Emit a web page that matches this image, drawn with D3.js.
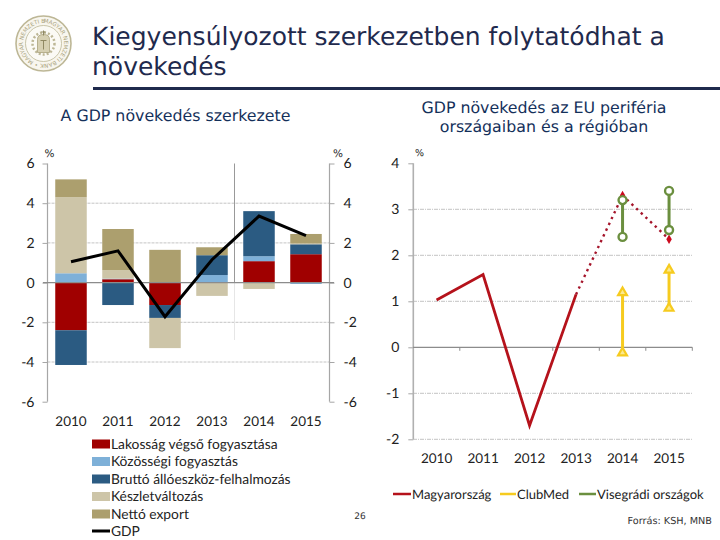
<!DOCTYPE html>
<html><head><meta charset="utf-8">
<script src="https://cdn.jsdelivr.net/npm/d3@7/dist/d3.min.js"></script>
<style>html,body{margin:0;padding:0;background:#fff}svg{display:block}text{text-rendering:geometricPrecision}</style>
</head><body><svg id="c" width="720" height="540"></svg>
<script>
const titleLines = ["Kiegyensúlyozott szerkezetben folytatódhat a", "növekedés"];
const leftTitle = "A GDP növekedés szerkezete";
const rightTitle = ["GDP növekedés az EU periféria", "országaiban és a régióban"];
const years = ["2010","2011","2012","2013","2014","2015"];
const seriesNames = ["Lakosság végső fogyasztása","Közösségi fogyasztás","Bruttó állóeszköz-felhalmozás","Készletváltozás","Nettó export"];
const seriesColors = ["#a00000","#7eb0d8","#2b5b82","#cdc5a8","#ac9f6e"];
const household = [-2.4, 0.17, -1.13, 0, 1.08, 1.43];
const community = [0.47, 0.03, 0, 0.38, 0.25, -0.07];
const investment = [-1.75, -1.13, -0.65, 1.0, 2.27, 0.5];
const inventory = [3.83, 0.43, -1.52, -0.67, -0.32, 0.04];
const netExport = [0.9, 2.07, 1.65, 0.4, 0, 0.48];
const gdp = [1.05, 1.6, -1.72, 1.15, 3.35, 2.37];
const leftTicks = [-6,-4,-2,0,2,4,6];
const rightTicks = [-2,-1,0,1,2,3,4];
const hungaryActual = [1.03, 1.58, -1.7, 1.15];
const hungaryForecast = [1.15, 3.3, 2.35];
const clubMed2014 = [1.19, -0.12];
const clubMed2015 = [1.68, 0.85];
const visegrad2014 = [3.2, 2.4];
const visegrad2015 = [3.4, 2.55];
const rightLegend = ["Magyarország","ClubMed","Visegrádi országok"];

const svg = d3.select("#c");
const DARK = "#1f2a4d", BODY = "Lato", HEAD = "'DejaVu Sans'";

/* header */
titleLines.forEach((t,i)=>svg.append("text").attr("x",92).attr("y",45+i*30).attr("font-family",HEAD).attr("font-size",25).attr("fill",DARK).text(t));
svg.append("rect").attr("x",93).attr("y",87).attr("width",627).attr("height",3).attr("fill",DARK);
svg.append("text").attr("x",175.5).attr("y",121).attr("text-anchor","middle").attr("font-family",HEAD).attr("font-size",15.8).attr("fill","#14305a").text(leftTitle);
rightTitle.forEach((t,i)=>svg.append("text").attr("x",544).attr("y",113+i*19).attr("text-anchor","middle").attr("font-family",HEAD).attr("font-size",15.8).attr("fill","#14305a").text(t));

/* seal */
const seal = svg.append("g").attr("transform","translate(43.5,43.5)");
const GOLD = "#bdb796";
seal.append("circle").attr("r",27.5).attr("fill","#f8f6ee").attr("stroke",GOLD).attr("stroke-width",1.6);
seal.append("circle").attr("r",18).attr("fill","#fbfaf5").attr("stroke",GOLD).attr("stroke-width",0.8);
seal.append("path").attr("id","sealPath").attr("fill","none").attr("d","M 0 -20.5 A 20.5 20.5 0 1 1 -0.01 -20.5");
seal.append("text").attr("font-family",HEAD).attr("font-size",5.6).attr("fill","#a9a27c")
  .append("textPath").attr("href","#sealPath").text("MAGYAR NEMZETI BANK • MAGYAR NEMZETI BANK");
seal.append("circle").attr("r",11).attr("fill","none").attr("stroke",GOLD).attr("stroke-width",2.5).attr("stroke-dasharray","2 2");
seal.append("path").attr("d","M-6 9V-4Q-6 -9 0 -9Q6 -9 6 -4V9Z").attr("fill","#d6d0b2").attr("stroke","#a9a27c").attr("stroke-width",0.8);
seal.append("path").attr("d","M0 -13V-8M-2 -11.5H2M-3 -3H3M0 -3V6").attr("stroke","#8f8862").attr("stroke-width",1).attr("fill","none");

/* left chart */
const xL = d3.scaleBand().domain(years).range([47.5,329.5]);
const yL = d3.scaleLinear().domain([-6,6]).range([401.7,163.5]);
const barW = 31.5;
const gridL = svg.append("g");
gridL.selectAll("line").data(leftTicks.filter(d=>d!==0&&Math.abs(d)!==6)).join("line")
  .attr("x1",47.5).attr("x2",329.5).attr("y1",d=>yL(d)).attr("y2",d=>yL(d))
  .attr("stroke","#c4c4c4").attr("stroke-width",1).attr("stroke-dasharray","3 1");

svg.append("line").attr("x1",234.5).attr("x2",234.5).attr("y1",163.5).attr("y2",282).attr("stroke","#999").attr("stroke-width",1);
svg.append("line").attr("x1",234.5).attr("x2",234.5).attr("y1",282).attr("y2",340).attr("stroke","#e6e6e6").attr("stroke-width",1);

const rows = years.map((y,i)=>({year:y,0:household[i],1:community[i],2:investment[i],3:inventory[i],4:netExport[i]}));
const stack = d3.stack().keys([0,1,2,3,4]).offset(d3.stackOffsetDiverging)(rows);
svg.append("g").selectAll("g").data(stack).join("g").attr("fill",(d,i)=>seriesColors[i])
  .selectAll("rect").data(d=>d).join("rect")
  .attr("x",d=>xL(d.data.year)+xL.bandwidth()/2-barW/2).attr("width",barW)
  .attr("y",d=>yL(Math.max(d[0],d[1]))).attr("height",d=>Math.abs(yL(d[0])-yL(d[1])));

const tickStyle = (g)=>{
  g.select(".domain").remove();
  g.selectAll(".tick line").attr("stroke","#a6a6a6");
  g.selectAll(".tick text").attr("font-family",BODY).attr("font-size",14).attr("fill","#222");
};
const fmt = d=>String(d);
svg.append("g").attr("transform","translate(47.5,0)").call(d3.axisLeft(yL).tickValues(leftTicks).tickFormat(fmt).tickSize(5).tickPadding(8)).call(tickStyle);
svg.append("g").attr("transform","translate(329.5,0)").call(d3.axisRight(yL).tickValues(leftTicks).tickFormat(fmt).tickSize(5).tickPadding(9)).call(tickStyle);
[47.5,329.5].forEach(x=>svg.append("line").attr("x1",x).attr("x2",x).attr("y1",163.5).attr("y2",401.7).attr("stroke","#a6a6a6").attr("stroke-width",1.2));
svg.append("line").attr("x1",43).attr("x2",334).attr("y1",yL(0)).attr("y2",yL(0)).attr("stroke","#8c8c8c").attr("stroke-width",1.2);
svg.append("g").attr("transform","translate(0,416.5)").call(d3.axisBottom(xL).tickSize(0).tickPadding(0)).call(g=>{
  g.select(".domain").remove();
  g.selectAll("text").attr("font-family",BODY).attr("font-size",13.5).attr("fill","#222");
});
svg.append("path").datum(gdp).attr("fill","none").attr("stroke","#000").attr("stroke-width",3).attr("stroke-linejoin","miter")
  .attr("d",d3.line().x((d,i)=>xL(years[i])+xL.bandwidth()/2).y(d=>yL(d)));
svg.append("text").attr("x",49.5).attr("y",157).attr("font-family",HEAD).attr("font-size",10.5).attr("text-anchor","middle").attr("fill","#222").text("%");
svg.append("text").attr("x",338).attr("y",157).attr("font-family",HEAD).attr("font-size",10.5).attr("text-anchor","middle").attr("fill","#222").text("%");

/* left legend */
const legL = svg.append("g");
seriesNames.forEach((n,i)=>{
  const y = 444+i*17.5;
  legL.append("rect").attr("x",92).attr("y",y-4.5).attr("width",18).attr("height",9).attr("fill",seriesColors[i]);
  legL.append("text").attr("x",111).attr("y",y+4.5).attr("font-family",BODY).attr("font-size",13.8).attr("fill","#222").text(n);
});
legL.append("line").attr("x1",92).attr("x2",110).attr("y1",531).attr("y2",531).attr("stroke","#000").attr("stroke-width",3);
legL.append("text").attr("x",111).attr("y",535.5).attr("font-family",BODY).attr("font-size",13.8).attr("fill","#222").text("GDP");
svg.append("text").attr("x",360).attr("y",519).attr("text-anchor","middle").attr("font-family",HEAD).attr("font-size",9).attr("fill","#333").text("26");

/* right chart */
const xR = d3.scaleBand().domain(years).range([413.3,692.3]);
const yR = d3.scaleLinear().domain([-2,4]).range([439.3,163.3]);
const cx = y=>xR(y)+xR.bandwidth()/2;
svg.append("g").selectAll("line").data(rightTicks.filter(d=>d!==0&&d!==4)).join("line")
  .attr("x1",413).attr("x2",692).attr("y1",d=>yR(d)).attr("y2",d=>yR(d))
  .attr("stroke","#c4c4c4").attr("stroke-width",1).attr("stroke-dasharray","4 1 1 1");
svg.append("g").attr("transform","translate(413.3,0)").call(d3.axisLeft(yR).tickValues(rightTicks).tickFormat(fmt).tickSize(5).tickPadding(9)).call(tickStyle);
svg.append("line").attr("x1",413.3).attr("x2",413.3).attr("y1",163.3).attr("y2",439.3).attr("stroke","#b0b0b0").attr("stroke-width",1.6);
svg.append("line").attr("x1",413).attr("x2",692.3).attr("y1",yR(0)).attr("y2",yR(0)).attr("stroke","#8c8c8c").attr("stroke-width",1.2);
svg.append("g").selectAll("line").data(years).join("line")
  .attr("x1",d=>xR(d)+xR.bandwidth()).attr("x2",d=>xR(d)+xR.bandwidth()).attr("y1",yR(0)).attr("y2",yR(0)+3.5).attr("stroke","#8c8c8c");
svg.append("g").attr("transform","translate(0,453)").call(d3.axisBottom(xR).tickSize(0).tickPadding(0)).call(g=>{
  g.select(".domain").remove();
  g.selectAll("text").attr("font-family",BODY).attr("font-size",13.5).attr("fill","#222");
});
svg.append("text").attr("x",419.5).attr("y",156).attr("text-anchor","middle").attr("font-family",HEAD).attr("font-size",9.5).attr("fill","#222").text("%");

const RED="#b5121b", YEL="#f6cb1f", GRN="#6b8f3f";
svg.append("path").datum(hungaryActual).attr("fill","none").attr("stroke",RED).attr("stroke-width",2.8).attr("stroke-linejoin","miter")
  .attr("d",d3.line().x((d,i)=>cx(years[i])).y(d=>yR(d)));
svg.append("path").datum(hungaryForecast).attr("fill","none").attr("stroke","#a5152b").attr("stroke-width",2.4).attr("stroke-dasharray","2.4 4")
  .attr("d",d3.line().x((d,i)=>cx(years[i+3])).y(d=>yR(d)));
svg.append("g").selectAll("path").data(hungaryForecast.slice(1)).join("path")
  .attr("transform",(d,i)=>`translate(${cx(years[i+4])},${yR(d)})`)
  .attr("d",d3.symbol(d3.symbolDiamond,26)).attr("fill","#cc0a1e");

const range = (vals,yr,col,sym,size,fill,sw)=>{
  svg.append("line").attr("x1",cx(yr)).attr("x2",cx(yr)).attr("y1",yR(vals[0])).attr("y2",yR(vals[1])).attr("stroke",col).attr("stroke-width",3);
  svg.append("g").selectAll("path").data(vals).join("path")
    .attr("transform",d=>`translate(${cx(yr)},${yR(d)})`)
    .attr("d",d3.symbol(sym,size)).attr("fill",fill).attr("stroke",col).attr("stroke-width",sw);
};
range(clubMed2014,"2014",YEL,d3.symbolTriangle,34,"#fbe98f",2.2);
range(clubMed2015,"2015",YEL,d3.symbolTriangle,34,"#fbe98f",2.2);
range(visegrad2014,"2014",GRN,d3.symbolCircle,50,"#fff",2.4);
range(visegrad2015,"2015",GRN,d3.symbolCircle,50,"#fff",2.4);

/* right legend */
const legCols = [RED,YEL,GRN];
[[393,412],[500,517],[579,597]].forEach((p,i)=>{
  svg.append("line").attr("x1",p[0]).attr("x2",p[1]-1).attr("y1",494).attr("y2",494).attr("stroke",legCols[i]).attr("stroke-width",2.5);
  svg.append("text").attr("x",p[1]).attr("y",498.5).attr("font-family",BODY).attr("font-size",13).attr("fill","#222").text(rightLegend[i]);
});
svg.append("text").attr("x",712).attr("y",524).attr("text-anchor","end").attr("font-family",HEAD).attr("font-size",9.7).attr("fill","#333").text("Forrás: KSH, MNB");
</script></body></html>
